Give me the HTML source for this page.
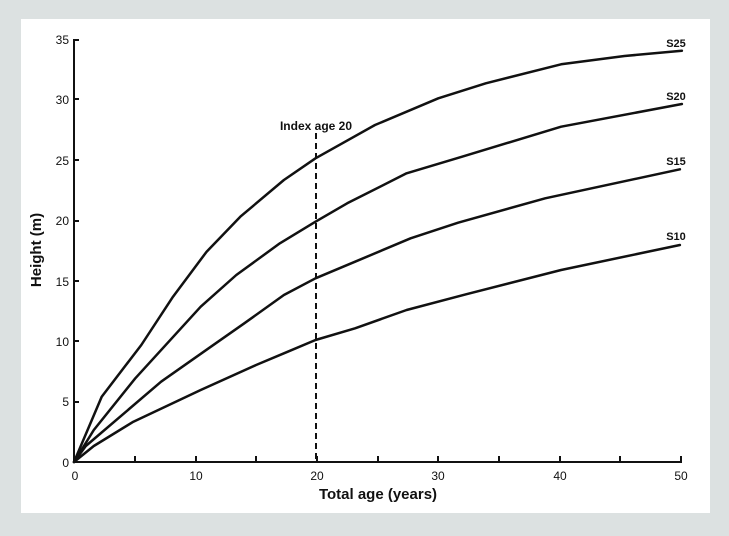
<!DOCTYPE html>
<html><head><style>
html,body{margin:0;padding:0;background:#dce1e1;}
svg{display:block;font-family:"Liberation Sans",Arial,sans-serif;}
</style></head><body>
<svg width="729" height="536" viewBox="0 0 729 536">
<rect x="0" y="0" width="729" height="536" fill="#dce1e1"/>
<rect x="21" y="19" width="689" height="494" fill="#fff"/>
<g stroke="#111" stroke-width="2" fill="none">
<line x1="74" y1="39" x2="74" y2="463"/>
<line x1="73" y1="462" x2="682" y2="462"/>
<line x1="74" y1="40" x2="79" y2="40"/>
<line x1="74" y1="99" x2="79" y2="99"/>
<line x1="74" y1="160" x2="79" y2="160"/>
<line x1="74" y1="221" x2="79" y2="221"/>
<line x1="74" y1="281" x2="79" y2="281"/>
<line x1="74" y1="341" x2="79" y2="341"/>
<line x1="74" y1="402" x2="79" y2="402"/>
<line x1="135" y1="462" x2="135" y2="456"/>
<line x1="196" y1="462" x2="196" y2="456"/>
<line x1="256" y1="462" x2="256" y2="456"/>
<line x1="317" y1="462" x2="317" y2="456"/>
<line x1="378" y1="462" x2="378" y2="456"/>
<line x1="438" y1="462" x2="438" y2="456"/>
<line x1="499" y1="462" x2="499" y2="456"/>
<line x1="560" y1="462" x2="560" y2="456"/>
<line x1="620" y1="462" x2="620" y2="456"/>
<line x1="681" y1="462" x2="681" y2="456"/>
</g>
<g font-size="12" fill="#111" text-anchor="end">
<text x="69" y="44">35</text><text x="69" y="104">30</text><text x="69" y="165">25</text>
<text x="69" y="225">20</text><text x="69" y="286">15</text><text x="69" y="346">10</text>
<text x="69" y="406">5</text><text x="69" y="467">0</text>
</g>
<g font-size="12" fill="#111" text-anchor="middle">
<text x="75" y="480">0</text><text x="196" y="480">10</text><text x="317" y="480">20</text>
<text x="438" y="480">30</text><text x="560" y="480">40</text><text x="681" y="480">50</text>
</g>
<text x="378" y="499" font-size="15" font-weight="bold" text-anchor="middle" fill="#111">Total age (years)</text>
<text transform="translate(41,250) rotate(-90)" font-size="15" font-weight="bold" text-anchor="middle" fill="#111">Height (m)</text>
<line x1="316" y1="133" x2="316" y2="462" stroke="#111" stroke-width="2" stroke-dasharray="6,4"/>
<text x="316" y="130" font-size="12" font-weight="bold" text-anchor="middle" fill="#111">Index age 20</text>
<g stroke="#111" stroke-width="2.5" fill="none" stroke-linejoin="round" stroke-linecap="round">
<polyline points="74,462 101.7,396.7 141.3,345 173,296.7 206.6,251.7 240.3,216.7 283.9,180 315.5,158.3 375,125 438.3,98.3 485.8,83.3 561.1,64.3 624.5,56 681.9,50.7"/>
<polyline points="74,462 93.8,430 135.3,378.3 200.7,306.7 236.3,275 279.9,243.3 315.5,221.7 347.2,203.3 406.6,173.3 462.1,156.7 561.1,126.7 681.9,104"/>
<polyline points="74,462 85.8,446 161.1,381.7 208.6,348.3 244.3,323.3 283.9,295 315.5,278.3 355.1,261.7 410.6,238.3 458.1,222.7 545.2,198.3 679.9,169.3"/>
<polyline points="74,462 93.8,446 133.4,421.7 200.7,390 256.1,365 287.8,351.7 315.5,340 355.1,328.3 406.6,310 466,294.3 561.1,270 679.9,245"/>
</g>
<g font-size="11" font-weight="bold" fill="#111" text-anchor="middle">
<text x="676" y="47">S25</text><text x="676" y="100">S20</text>
<text x="676" y="165">S15</text><text x="676" y="240">S10</text>
</g>
</svg>
</body></html>
